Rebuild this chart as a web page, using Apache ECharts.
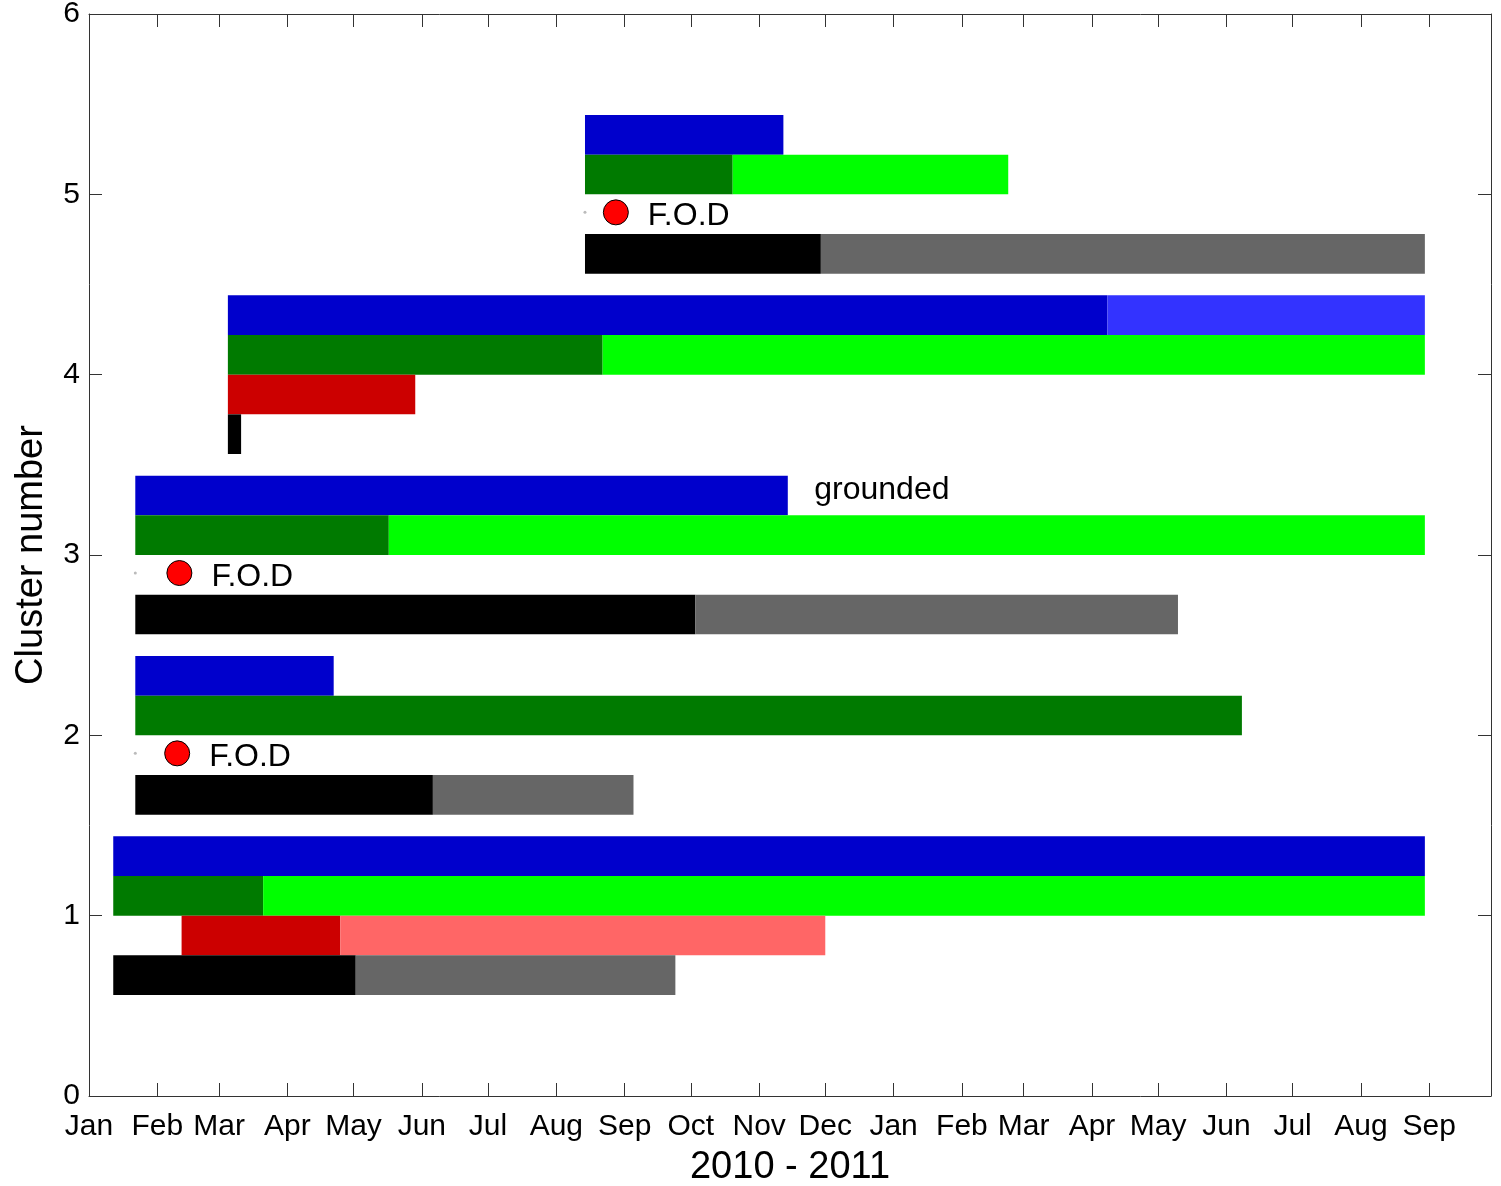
<!DOCTYPE html>
<html style="height: 100%">
<head>
<meta charset="utf-8">
<title>Cluster timeline</title>
</head>
<body style="height: 100%; margin: 0; background: #fff">
<div id="container" style="width: 1501px; height: 1186px"></div>
<script type="text/javascript" src="https://cdn.jsdelivr.net/npm/echarts@6/dist/echarts.min.js"></script>
<script type="text/javascript">
// month ticks along the bottom (2010 - 2011)
var monthTicks = ['2010-01-01','2010-02-01','2010-03-01','2010-04-01','2010-05-01','2010-06-01','2010-07-01',
    '2010-08-01','2010-09-01','2010-10-01','2010-11-01','2010-12-01','2011-01-01','2011-02-01','2011-03-01',
    '2011-04-01','2011-05-01','2011-06-01','2011-07-01','2011-08-01','2011-09-01'];
var monthLabels = ['Jan','Feb','Mar','Apr','May','Jun','Jul','Aug','Sep','Oct','Nov','Dec',
    'Jan','Feb','Mar','Apr','May','Jun','Jul','Aug','Sep'];
var axisEnd = '2011-09-29';

// each row: [cluster, start, date where shade turns light (null = none), end]
var blueTrack = [
    [1, '2010-01-12', null, '2011-08-30'],
    [2, '2010-01-22', null, '2010-04-22'],
    [3, '2010-01-22', null, '2010-11-14'],
    [4, '2010-03-05', '2011-04-08', '2011-08-30'],
    [5, '2010-08-14', null, '2010-11-12']
];
var greenTrack = [
    [1, '2010-01-12', '2010-03-21', '2011-08-30'],
    [2, '2010-01-22', null, '2011-06-08'],
    [3, '2010-01-22', '2010-05-17', '2011-08-30'],
    [4, '2010-03-05', '2010-08-22', '2011-08-30'],
    [5, '2010-08-14', '2010-10-20', '2011-02-22']
];
var redTrack = [
    [1, '2010-02-12', '2010-04-25', '2010-12-01'],
    [4, '2010-03-05', null, '2010-05-29']
];
var blackTrack = [
    [1, '2010-01-12', '2010-05-02', '2010-09-24'],
    [2, '2010-01-22', '2010-06-06', '2010-09-05'],
    [3, '2010-01-22', '2010-10-03', '2011-05-10'],
    [4, '2010-03-05', null, '2010-03-11'],
    [5, '2010-08-14', '2010-11-29', '2011-08-30']
];
// F.O.D markers: [cluster, date]
var fodDots = [[2, '2010-02-10'], [3, '2010-02-11'], [5, '2010-08-28']];
var fodStarts = [[2, '2010-01-22'], [3, '2010-01-22'], [5, '2010-08-14']];
var notes = [[3, '2010-11-26', 'grounded']];

var t0 = Date.parse('2010-01-01');
function day(s) { return (Date.parse(s) - t0) / 864e5; }

var tracks = [
    {rows: blueTrack,  lo: 0.22,  colors: ['#0000cc', '#3333ff']},
    {rows: greenTrack, lo: 0,     colors: ['#007a00', '#00ff00']},
    {rows: redTrack,   lo: -0.22, colors: ['#cc0000', '#ff6666']},
    {rows: blackTrack, lo: -0.44, colors: ['#000000', '#666666']}
];
var barH = 0.22;

var barData = [];
tracks.forEach(function (tr) {
    tr.rows.forEach(function (r) {
        var c = r[0], s = day(r[1]), e = day(r[3]);
        var m = r[2] ? day(r[2]) : e;
        barData.push({value: [s, m, c + tr.lo, c + tr.lo + barH], itemStyle: {color: tr.colors[0]}});
        if (m < e) {
            barData.push({value: [m, e, c + tr.lo, c + tr.lo + barH], itemStyle: {color: tr.colors[1]}});
        }
    });
});

var tickDays = monthTicks.map(day);
var labelOf = {};
tickDays.forEach(function (d, i) { labelOf[d] = monthLabels[i]; });

var dom = document.getElementById('container');
var myChart = echarts.init(dom);

var axisStyle = {show: true, onZero: false, lineStyle: {color: '#333', width: 1}};
var font = 'Liberation Sans, Arial, sans-serif';

var option = {
    backgroundColor: '#fff',
    animation: false,
    grid: {left: 89, right: 10, top: 14, bottom: 90, outerBoundsMode: 'none'},
    xAxis: [{
        type: 'value',
        min: 0,
        max: day(axisEnd),
        name: '2010 - 2011',
        nameLocation: 'middle',
        nameGap: 53,
        nameTextStyle: {fontFamily: font, fontSize: 38, color: '#000'},
        axisLine: axisStyle,
        axisTick: {inside: true, length: 13, customValues: tickDays, lineStyle: {color: '#333'}},
        axisLabel: {
            customValues: tickDays,
            margin: 16,
            fontFamily: font, fontSize: 30, color: '#000',
            formatter: function (v) { return labelOf[v] || ''; }
        },
        splitLine: {show: false}
    }, {
        type: 'value',
        position: 'top',
        min: 0,
        max: day(axisEnd),
        axisLine: axisStyle,
        axisTick: {inside: true, length: 13, customValues: tickDays, lineStyle: {color: '#333'}},
        axisLabel: {show: false},
        splitLine: {show: false}
    }],
    yAxis: [{
        type: 'value',
        min: 0,
        max: 6,
        interval: 1,
        name: 'Cluster number',
        nameLocation: 'middle',
        nameGap: 38,
        nameTextStyle: {fontFamily: font, fontSize: 38, color: '#000'},
        axisLine: axisStyle,
        axisTick: {show: true, inside: true, length: 13, lineStyle: {color: '#333'}},
        axisLabel: {margin: 9, fontFamily: font, fontSize: 30, color: '#000'},
        splitLine: {show: false}
    }, {
        type: 'value',
        position: 'right',
        min: 0,
        max: 6,
        interval: 1,
        axisLine: axisStyle,
        axisTick: {show: true, inside: true, length: 13, lineStyle: {color: '#333'}},
        axisLabel: {show: false},
        splitLine: {show: false}
    }],
    series: [
        {
            type: 'custom',
            xAxisIndex: 0,
            yAxisIndex: 0,
            renderItem: function (params, api) {
                var p0 = api.coord([api.value(0), api.value(3)]);
                var p1 = api.coord([api.value(1), api.value(2)]);
                return {
                    type: 'rect',
                    shape: {x: p0[0], y: p0[1], width: p1[0] - p0[0], height: p1[1] - p0[1]},
                    style: api.style()
                };
            },
            encode: {x: [0, 1], y: [2, 3]},
            data: barData
        },
        {
            type: 'scatter',
            symbolSize: 25,
            itemStyle: {color: '#ff0000', borderColor: '#000', borderWidth: 1, opacity: 1},
            label: {
                show: true, position: 'right', distance: 19, offset: [0, 4],
                formatter: 'F.O.D', fontFamily: font, fontSize: 32, color: '#000'
            },
            data: fodDots.map(function (d) { return [day(d[1]), d[0] - 0.1]; })
        },
        {
            type: 'scatter',
            symbolSize: 3,
            itemStyle: {color: '#bbb', opacity: 1},
            data: fodStarts.map(function (d) { return [day(d[1]), d[0] - 0.1]; })
        },
        {
            type: 'scatter',
            symbolSize: 0,
            itemStyle: {opacity: 1},
            label: {
                show: true, position: 'right', distance: 0, offset: [0, 2],
                formatter: function (p) { return notes[p.dataIndex][2]; },
                fontFamily: font, fontSize: 32, color: '#000'
            },
            data: notes.map(function (d) { return [day(d[1]), d[0] + 0.37]; })
        }
    ]
};
myChart.setOption(option, true);
</script>
</body>
</html>
